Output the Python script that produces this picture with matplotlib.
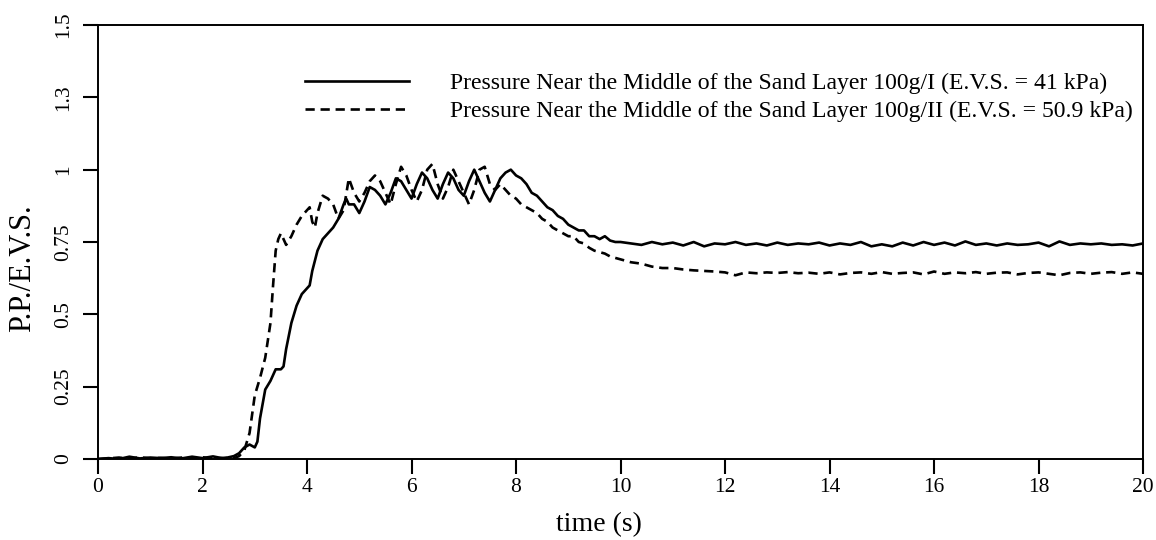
import matplotlib
matplotlib.use("Agg")
import matplotlib.pyplot as plt

plt.rc("font", family="Liberation Serif")

# test I (solid) : time (s), P.P./E.V.S.
t1 = [0.0, 0.2, 0.4, 0.6, 0.8, 1.0, 1.2, 1.4, 1.6, 1.8, 2.0, 2.2, 2.4, 2.6, 2.7, 2.8, 2.9, 3.0, 3.05,
      3.1, 3.2, 3.3, 3.4, 3.5, 3.55, 3.6, 3.7, 3.8, 3.9, 4.0, 4.05, 4.1, 4.2, 4.3, 4.4, 4.5, 4.6, 4.7,
      4.75, 4.8, 4.9, 5.0, 5.1, 5.2, 5.3, 5.4, 5.5, 5.6, 5.7, 5.8, 5.9, 6.0, 6.1, 6.2, 6.3, 6.4, 6.5,
      6.6, 6.7, 6.8, 6.9, 7.0, 7.1, 7.2, 7.3, 7.4, 7.5, 7.6, 7.7, 7.8, 7.9, 8.0, 8.1, 8.2, 8.3, 8.4,
      8.5, 8.6, 8.7, 8.8, 8.9, 9.0, 9.1, 9.2, 9.3, 9.4, 9.5, 9.6, 9.7, 9.8, 9.9, 10.0,
      10.2, 10.4, 10.6, 10.8, 11.0, 11.2, 11.4, 11.6, 11.8, 12.0, 12.2, 12.4, 12.6, 12.8, 13.0,
      13.2, 13.4, 13.6, 13.8, 14.0, 14.2, 14.4, 14.6, 14.8, 15.0, 15.2, 15.4, 15.6, 15.8, 16.0,
      16.2, 16.4, 16.6, 16.8, 17.0, 17.2, 17.4, 17.6, 17.8, 18.0, 18.2, 18.4, 18.6, 18.8, 19.0,
      19.2, 19.4, 19.6, 19.8, 20.0]
v1 = [0.0, 0.003, 0.0, 0.008, 0.002, 0.005, 0.003, 0.006, 0.002, 0.008, 0.003, 0.009, 0.002, 0.01, 0.02,
      0.04, 0.05, 0.04, 0.06, 0.14, 0.24, 0.27, 0.31, 0.31, 0.32, 0.38, 0.47, 0.53, 0.57, 0.59, 0.60,
      0.65, 0.72, 0.76, 0.78, 0.80, 0.83, 0.88, 0.90, 0.88, 0.88, 0.85, 0.89, 0.94, 0.93, 0.91, 0.88,
      0.92, 0.97, 0.96, 0.93, 0.90, 0.95, 0.99, 0.97, 0.93, 0.90, 0.95, 0.99, 0.97, 0.93, 0.91, 0.96,
      1.0, 0.96, 0.92, 0.89, 0.93, 0.97, 0.99, 1.0, 0.98, 0.97, 0.95, 0.92, 0.91, 0.89, 0.87, 0.86,
      0.84, 0.83, 0.81, 0.80, 0.79, 0.79, 0.77, 0.77, 0.76, 0.77, 0.755, 0.75, 0.75,
      0.745, 0.74, 0.75, 0.742, 0.748, 0.738, 0.75, 0.735, 0.745, 0.742, 0.75, 0.74, 0.745, 0.738,
      0.748, 0.74, 0.745, 0.742, 0.748, 0.738, 0.745, 0.74, 0.75, 0.735, 0.742, 0.735, 0.748, 0.738,
      0.75, 0.74, 0.748, 0.738, 0.752, 0.74, 0.745, 0.738, 0.745, 0.74, 0.742, 0.748, 0.735, 0.752,
      0.74, 0.745, 0.742, 0.745, 0.74, 0.742, 0.738, 0.745]

# test II (dashed)
t2 = [0.0, 0.2, 0.4, 0.6, 0.8, 1.0, 1.2, 1.4, 1.6, 1.8, 2.0, 2.2, 2.4, 2.6, 2.7, 2.8, 2.9, 3.0, 3.1,
      3.2, 3.3, 3.35, 3.4, 3.45, 3.5, 3.6, 3.7, 3.8, 3.9, 4.0, 4.05, 4.1, 4.15, 4.2, 4.3, 4.4, 4.5,
      4.6, 4.7, 4.8, 4.9, 5.0, 5.1, 5.2, 5.3, 5.4, 5.5, 5.6, 5.7, 5.8, 5.9, 6.0, 6.1, 6.2, 6.3, 6.4,
      6.5, 6.6, 6.7, 6.8, 6.9, 7.0, 7.1, 7.2, 7.3, 7.4, 7.5, 7.6, 7.7, 7.8, 7.9, 8.0, 8.1, 8.2, 8.3,
      8.4, 8.5, 8.6, 8.7, 8.8, 8.9, 9.0, 9.1, 9.2, 9.3, 9.4, 9.5, 9.6, 9.7, 9.8, 9.9, 10.0,
      10.2, 10.4, 10.6, 10.8, 11.0, 11.2, 11.4, 11.6, 11.8, 12.0, 12.2, 12.4, 12.6, 12.8, 13.0,
      13.2, 13.4, 13.6, 13.8, 14.0, 14.2, 14.4, 14.6, 14.8, 15.0, 15.2, 15.4, 15.6, 15.8, 16.0,
      16.2, 16.4, 16.6, 16.8, 17.0, 17.2, 17.4, 17.6, 17.8, 18.0, 18.2, 18.4, 18.6, 18.8, 19.0,
      19.2, 19.4, 19.6, 19.8, 20.0]
v2 = [0.0, 0.002, 0.005, 0.001, 0.006, 0.002, 0.004, 0.001, 0.005, 0.002, 0.006, 0.001, 0.004, 0.003,
      0.01, 0.03, 0.09, 0.22, 0.28, 0.35, 0.47, 0.60, 0.72, 0.76, 0.78, 0.74, 0.77, 0.81, 0.84, 0.86,
      0.87, 0.82, 0.80, 0.85, 0.91, 0.90, 0.88, 0.83, 0.86, 0.97, 0.92, 0.89, 0.92, 0.96, 0.98, 0.96,
      0.92, 0.88, 0.95, 1.01, 0.98, 0.93, 0.89, 0.93, 1.0, 1.02, 0.95, 0.90, 0.94, 1.0, 0.96, 0.92,
      0.88, 0.93, 1.0, 1.01, 0.95, 0.93, 0.95, 0.93, 0.91, 0.90, 0.88, 0.87, 0.86, 0.85, 0.83, 0.82,
      0.80, 0.79, 0.78, 0.77, 0.77, 0.75, 0.745, 0.73, 0.72, 0.715, 0.71, 0.70, 0.695, 0.69,
      0.68, 0.675, 0.665, 0.66, 0.66, 0.655, 0.652, 0.65, 0.648, 0.645, 0.635, 0.645, 0.642, 0.645,
      0.643, 0.646, 0.642, 0.644, 0.64, 0.645, 0.638, 0.643, 0.645, 0.64, 0.646, 0.64, 0.643, 0.645,
      0.638, 0.648, 0.64, 0.645, 0.642, 0.646, 0.64, 0.644, 0.645, 0.638, 0.643, 0.645, 0.64, 0.635,
      0.643, 0.645, 0.64, 0.644, 0.646, 0.64, 0.645, 0.64]

labels = ["Pressure Near the Middle of the Sand Layer 100g/I (E.V.S. = 41 kPa)",
          "Pressure Near the Middle of the Sand Layer 100g/II (E.V.S. = 50.9 kPa)"]

yticks = [0, 0.25, 0.5, 0.75, 1, 1.25, 1.5]
yticklabels = ["0", "0.25", "0.5", "0.75", "1", "1.3", "1.5"]

fig = plt.figure(figsize=(11.56, 5.40), dpi=100)
ax = fig.add_axes([0.0848, 0.15, 0.904, 0.8037])

ax.plot(t1, v1, color="black", lw=1.9, label=labels[0])
ax.plot(t2, v2, color="black", lw=1.9, dashes=(3.5, 2.2), label=labels[1])

ax.set_xlim(0, 20)
ax.set_ylim(0, 1.5)
ax.set_xticks(range(0, 21, 2))
ax.set_yticks(yticks, yticklabels)
for lab in ax.get_yticklabels():
    lab.set_rotation(90)
    lab.set_va("center")

ax.tick_params(direction="out", length=11, width=1.5, labelsize=15.5, colors="black")
ax.tick_params(axis="y", pad=7)
ax.tick_params(axis="x", pad=3)
for sp in ax.spines.values():
    sp.set_linewidth(1.4)

ax.set_xlabel("time (s)", fontsize=20)
ax.set_ylabel("P.P./E.V.S.", fontsize=22)
ax.xaxis.set_label_coords(0.479, -0.122)
ax.yaxis.set_label_coords(-0.058, 0.44)

ax.legend(loc="upper left", bbox_to_anchor=(0.198, 0.89), frameon=False, fontsize=17.1,
          handlelength=4.4, handletextpad=1.7, borderpad=0, borderaxespad=0, labelspacing=0.25)

fig.savefig("out.png", dpi=100)
